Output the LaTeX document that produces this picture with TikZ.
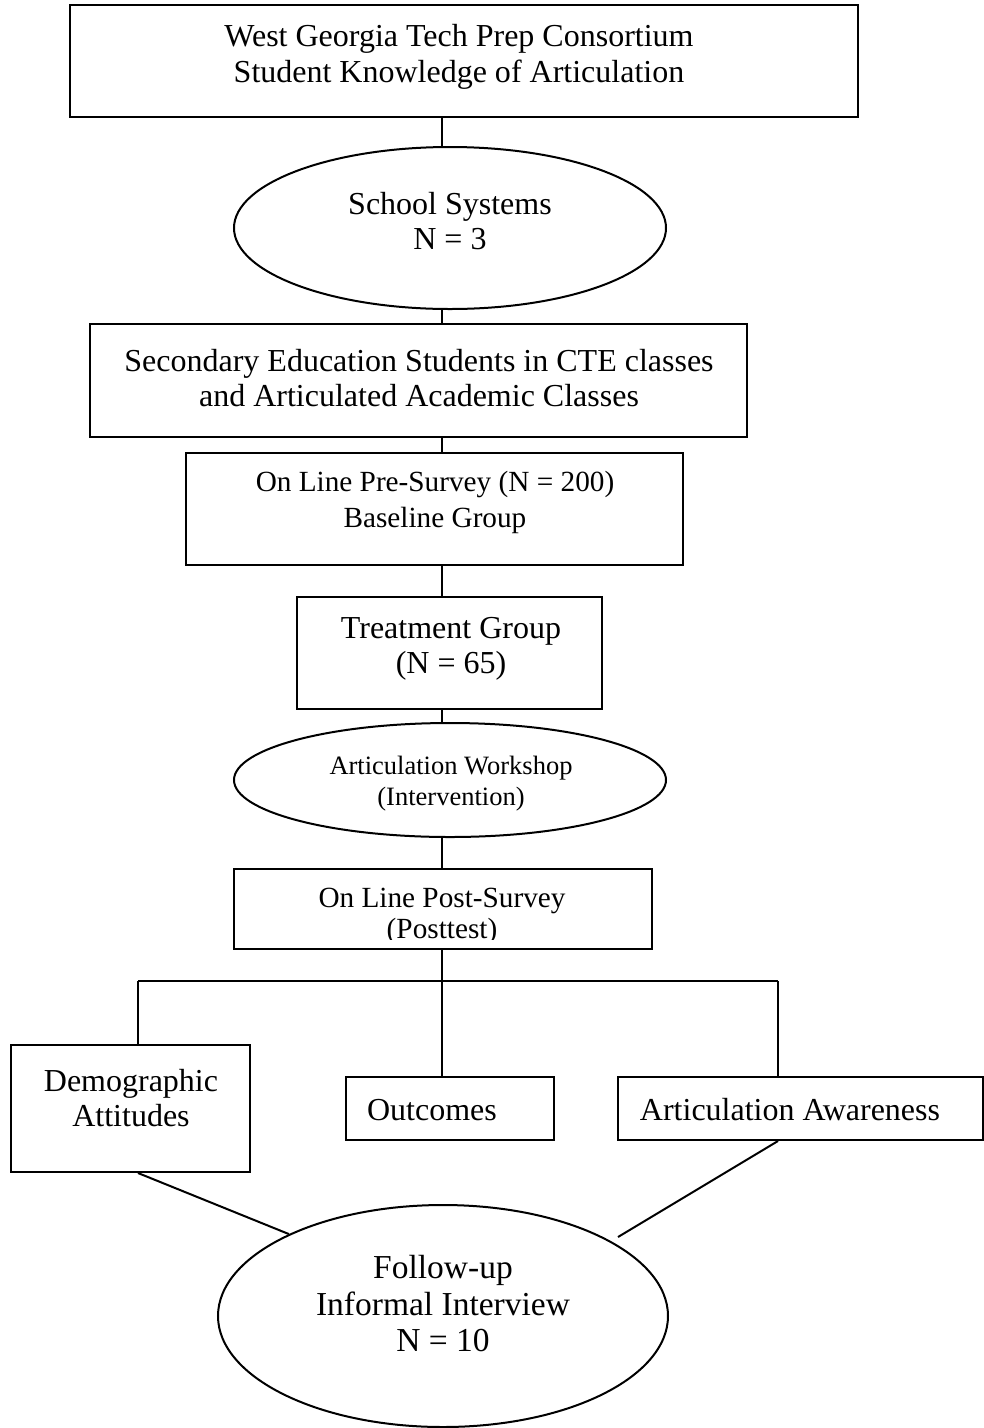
\documentclass[tikz,border=0pt]{standalone}
\usepackage{fontspec}
\setmainfont{Liberation Serif}
\usetikzlibrary{shapes.geometric, positioning, calc, fit}
\tikzset{
  frame/.style={rectangle, draw=black, line width=0.8pt, inner sep=0pt},
  oval/.style={ellipse, draw=black, line width=0.8pt, inner sep=0pt},
  link/.style={draw=black, line width=0.8pt},
  txt/.style={align=center, inner sep=0pt, font=\fontsize{12.8}{14.2}\selectfont},
  txtmid/.style={align=center, inner sep=0pt, font=\fontsize{11.7}{14.4}\selectfont},
  txttight/.style={align=center, inner sep=0pt, font=\fontsize{11.7}{12.4}\selectfont},
  txtsmall/.style={align=center, inner sep=0pt, font=\fontsize{10.6}{12.4}\selectfont},
  txtbig/.style={align=center, inner sep=0pt, font=\fontsize{13.4}{14.6}\selectfont}
}
\begin{document}
\begin{tikzpicture}[x=0.4pt, y=-0.4pt]
  \useasboundingbox (0,0) rectangle (984,1428);

  % Boxes
  \node[frame, fit={(70,5) (858,117)}] (top) {};
  \node[frame, fit={(90,324) (747,437)}] (sec) {};
  \node[frame, fit={(186,453) (683,565)}] (pre) {};
  \node[frame, fit={(297,597) (602,709)}] (treat) {};
  \node[frame, fit={(234,869) (652,949)}] (post) {};
  \node[frame, fit={(11,1045) (250,1172)}] (demo) {};
  \node[frame, fit={(346,1077) (554,1140)}] (out) {};
  \node[frame, fit={(618,1077) (983,1140)}] (aware) {};

  % Ovals
  \node[oval, minimum width=172.8pt, minimum height=64.8pt] (schools) at (450,228) {};
  \node[oval, minimum width=172.8pt, minimum height=45.6pt] (work) at (450,780) {};
  \node[oval, minimum width=180pt, minimum height=88.8pt] (follow) at (443,1316) {};

  % Texts
  \node[txt] (topT) at (459,57) {West Georgia Tech Prep Consortium\\Student Knowledge of Articulation};
  \node[txt] (schoolsT) at (450,221) {School Systems\\N = 3};
  \node[txt] (secT) at (419,378) {Secondary Education Students in CTE classes\\and Articulated Academic Classes};
  \node[txtmid] (preT) at (435,502) {On Line Pre-Survey (N = 200)\\Baseline Group};
  \node[txt] (treatT) at (451,649) {Treatment Group\\(N = 65)};
  \node[txtsmall] (workT) at (451,784) {Articulation Workshop\\(Intervention)};
  \begin{scope}
    \clip (234,869) rectangle (652,939);
    \node[txttight] (postT) at (442,916) {On Line Post-Survey\\(Posttest)};
  \end{scope}
  \node[txt] (demoT) at (131,1098) {Demographic\\Attitudes};
  \node[txt] (outT) at (432,1110) {Outcomes};
  \node[txt] (awareT) at (790,1110) {Articulation Awareness};
  \node[txtbig] (followT) at (443,1304) {Follow-up\\Informal Interview\\N = 10};

  % Spine and branch points
  \coordinate (spine) at (442,0);
  \coordinate (brL) at (138,981);
  \coordinate (brM) at (442,981);
  \coordinate (brR) at (778,981);
  \coordinate (awareEnd) at (618,1237);

  % Connections
  \draw[link] (top.south -| spine) -- (schools.north -| spine);
  \draw[link] (schools.south -| spine) -- (sec.north -| spine);
  \draw[link] (sec.south -| spine) -- (pre.north -| spine);
  \draw[link] (pre.south -| spine) -- (treat.north -| spine);
  \draw[link] (treat.south -| spine) -- (work.north -| spine);
  \draw[link] (work.south -| spine) -- (post.north -| spine);
  \draw[link] (post.south -| spine) -- (brM);
  \draw[link] (brL) -- (brR);
  \draw[link] (brL) -- (demo.north -| brL);
  \draw[link] (brM) -- (out.north -| brM);
  \draw[link] (brR) -- (aware.north -| brR);
  \draw[link] (demo.south -| brL) -- (follow.152.6);
  \draw[link] (aware.south -| brR) -- (awareEnd);
\end{tikzpicture}
\end{document}
